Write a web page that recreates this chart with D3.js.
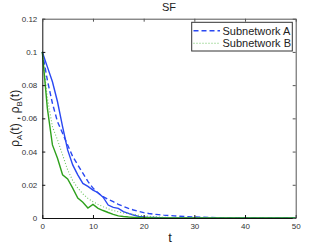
<!DOCTYPE html>
<html>
<head>
<meta charset="utf-8">
<script src="https://cdn.jsdelivr.net/npm/d3@7"></script>
<style>
  body { margin: 0; background: #fff; }
  svg { display: block; font-family: "Liberation Sans", Arial, sans-serif; }
</style>
</head>
<body>
<svg id="chart" width="327" height="246"></svg>
<script>
// values
var simT = [0,1,2,3,4,5,6,7,8,9,10,11,12,13,14,15,16,17,18,19,20,21,22,23,25,30,50];
var simA = [0.1,0.091,0.082,0.070,0.055,0.041,0.032,0.026,0.0208,0.0190,0.0168,0.0152,0.0125,0.0078,0.0064,0.0058,0.0038,0.0028,0.0018,0.0010,0.0006,0.0004,0.0003,0.0002,0.0001,0.00003,0];
var simB = [0.1,0.066,0.044,0.036,0.026,0.0235,0.018,0.012,0.0095,0.006,0.0082,0.0058,0.0045,0.0033,0.0022,0.0013,0.0009,0.0006,0.0004,0.0003,0.0002,0.00015,0.0001,0.0001,0.00005,0,0];
var thT = [0,1,2,3,4,5,6,7,8,9,10,11,12,13,14,15,16,17,18,19,20,21,22,23,24,26,28,30,33,36,40,45,50];
var thA = [0.1,0.083,0.069,0.058,0.051,0.044,0.037,0.032,0.027,0.022,0.018,0.015,0.0128,0.0112,0.0098,0.0082,0.007,0.0058,0.0048,0.004,0.0032,0.0027,0.0023,0.002,0.0017,0.0013,0.0009,0.0006,0.0003,0.0002,0.0001,0.00003,0];
var thB = [0.1,0.072,0.055,0.047,0.038,0.029,0.0225,0.018,0.0145,0.0118,0.0098,0.0082,0.0068,0.0055,0.0045,0.0037,0.0031,0.0026,0.0021,0.0017,0.0013,0.001,0.0008,0.0006,0.0004,0.0002,0.0001,0.00005,0,0,0,0,0];
var xTicks = [0,10,20,30,40,50];
var yTicks = [0,0.02,0.04,0.06,0.08,0.1,0.12];
var legendLabels = ["Subnetwork A","Subnetwork B"];

var blue = "#2a48f2", green = "#2ea11c", lightGreen = "#6cc35e";

var svg = d3.select("#chart");
var m = {left: 42.3, right: 295.7, top: 18.7, bottom: 218};
var x = d3.scaleLinear().domain([0,50]).range([m.left, m.right]);
var y = d3.scaleLinear().domain([0,0.12]).range([m.bottom, m.top]);

var plot = svg.append("g");

// curves
var line = d3.line().x(d => x(d[0])).y(d => y(d[1]));
function series(ts, vs) { return ts.map((t,i) => [t, vs[i]]); }

plot.append("path").datum(series(thA ? thT : [], thA))
  .attr("d", line).attr("fill","none").attr("stroke",blue)
  .attr("stroke-width",1.4).attr("stroke-dasharray","5,3");
plot.append("path").datum(series(simT, simA))
  .attr("d", line).attr("fill","none").attr("stroke",blue).attr("stroke-width",1.4);
plot.append("path").datum(series(thT, thB))
  .attr("d", line).attr("fill","none").attr("stroke",lightGreen)
  .attr("stroke-width",1.1).attr("stroke-dasharray","1,2");
plot.append("path").datum(series(simT, simB))
  .attr("d", line).attr("fill","none").attr("stroke",green).attr("stroke-width",1.4);

// axes (ticks inside, box)
var fmt = d => d === 0 ? "0" : String(+d.toFixed(2));
var axB = svg.append("g").attr("transform","translate(0,"+m.bottom+")")
  .call(d3.axisBottom(x).tickValues(xTicks).tickSizeInner(-3).tickSizeOuter(0).tickPadding(5).tickFormat(fmt));
var axL = svg.append("g").attr("transform","translate("+m.left+",0)")
  .call(d3.axisLeft(y).tickValues(yTicks).tickSizeInner(-3).tickSizeOuter(0).tickPadding(5).tickFormat(fmt));
var axT = svg.append("g").attr("transform","translate(0,"+m.top+")")
  .call(d3.axisTop(x).tickValues(xTicks).tickSizeInner(-3).tickSizeOuter(0).tickFormat(""));
var axR = svg.append("g").attr("transform","translate("+m.right+",0)")
  .call(d3.axisRight(y).tickValues(yTicks).tickSizeInner(-3).tickSizeOuter(0).tickFormat(""));
[axB, axL].forEach(a => {
  a.selectAll("text").attr("font-size", 8).attr("fill", "#333").attr("font-family", "Liberation Sans, Arial, sans-serif");
  a.selectAll("path,line").attr("stroke", "#111");
});
[axT, axR].forEach(a => a.selectAll("path,line").attr("stroke", "#555"));

// title and labels
svg.append("text").attr("x", 169).attr("y", 11).attr("text-anchor","middle")
  .attr("font-size", 11).attr("fill","#222").text("SF");
svg.append("text").attr("x", 170).attr("y", 242).attr("text-anchor","middle")
  .attr("font-size", 13).attr("fill","#222").text("t");
var yl = svg.append("text").attr("transform","translate(19,"+((m.top+m.bottom)/2)+") rotate(-90)")
  .attr("text-anchor","middle").attr("font-size", 12).attr("fill","#222");
yl.append("tspan").text("ρ");
yl.append("tspan").attr("font-size", 8).attr("dy", 3).text("A");
yl.append("tspan").attr("dy", -3).text("(t) , ρ");
yl.append("tspan").attr("font-size", 8).attr("dy", 3).text("B");
yl.append("tspan").attr("dy", -3).text("(t)");

// legend
var lg = svg.append("g");
lg.append("rect").attr("x", 191.7).attr("y", 22.3).attr("width", 100.6).attr("height", 28.7)
  .attr("fill", "#fff").attr("stroke", "#333").attr("stroke-width", 1);
var styles = [
  {stroke: blue, dash: "5,3", w: 1.4},
  {stroke: lightGreen, dash: "1,2", w: 1.1}
];
legendLabels.forEach((lab, i) => {
  var yy = 30.7 + i * 12.6;
  lg.append("line").attr("x1", 193.5).attr("x2", 220).attr("y1", yy).attr("y2", yy)
    .attr("stroke", styles[i].stroke).attr("stroke-width", styles[i].w).attr("stroke-dasharray", styles[i].dash);
  lg.append("text").attr("x", 222.5).attr("y", yy + 4).attr("font-size", 11).attr("fill", "#222").text(lab);
});
</script>
</body>
</html>
